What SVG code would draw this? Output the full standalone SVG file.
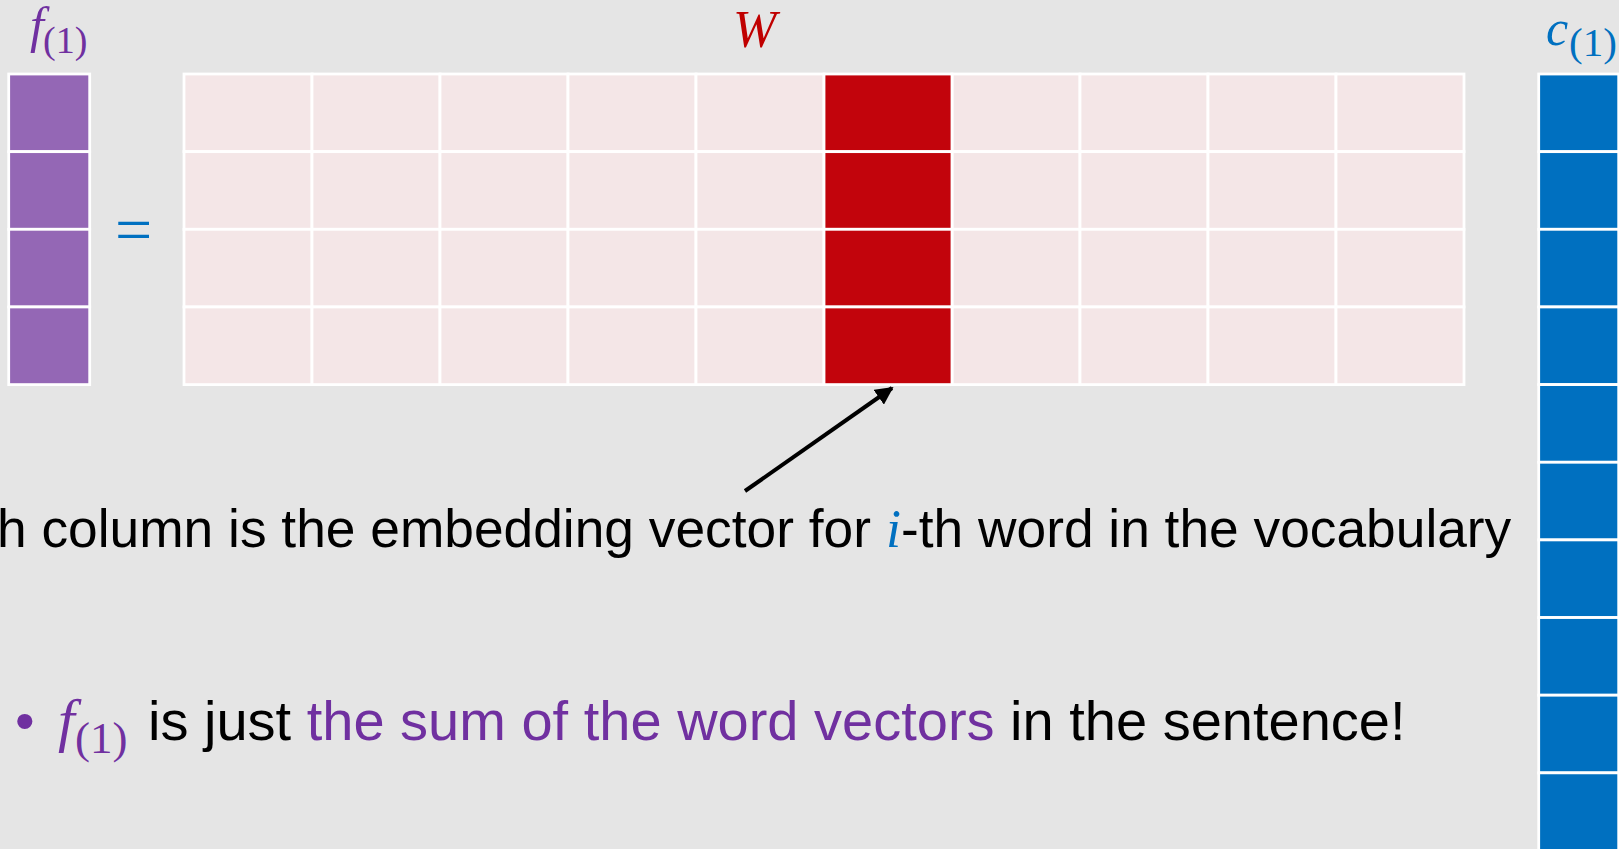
<svg xmlns="http://www.w3.org/2000/svg" width="1619" height="849" viewBox="0 0 1619 849">
<style>
.bg{fill:#E5E5E5}
.cell{stroke:#FFFFFF;stroke-width:2.8}
.fc{fill:#9467B5}
.wc{fill:#F4E6E7}
.wr{fill:#C2040C}
.cc{fill:#0070C0}
.math{font-family:"Liberation Serif","DejaVu Serif",serif;font-style:italic}
.mup{font-family:"Liberation Serif","DejaVu Serif",serif}
.body{font-family:"Liberation Sans",Arial,sans-serif;font-size:53.3px;fill:#000000}
.body2{font-family:"Liberation Sans",Arial,sans-serif;font-size:56px;fill:#000000}
.purple{fill:#7030A0}
.blue{fill:#0070C0}
.red{fill:#C00000}
</style>
<defs>
<marker id="ah" viewBox="0 0 10 10" refX="9" refY="5" markerWidth="4.5" markerHeight="4.5" orient="auto" markerUnits="strokeWidth">
<path d="M0,0 L10,5 L0,10 Z" fill="#000000"/>
</marker>
</defs>
<rect class="bg" x="0" y="0" width="1619" height="849"/>

<g id="f-vector">
<rect class="cell fc" x="8.7" y="74" width="81" height="77.65"/>
<rect class="cell fc" x="8.7" y="151.65" width="81" height="77.65"/>
<rect class="cell fc" x="8.7" y="229.3" width="81" height="77.65"/>
<rect class="cell fc" x="8.7" y="306.95" width="81" height="77.65"/>
</g>
<g id="f-label">
<text class="math purple" x="30" y="42" font-size="50">f</text>
<text class="mup purple" x="43" y="53" font-size="38">(1)</text>
</g>

<g id="equals">
<text class="mup blue" x="115" y="252" font-size="66">=</text>
</g>

<g id="W-matrix">
<g class="wc">
<rect class="cell" x="184" y="74" width="128" height="77.65"/><rect class="cell" x="312" y="74" width="128" height="77.65"/><rect class="cell" x="440" y="74" width="128" height="77.65"/><rect class="cell" x="568" y="74" width="128" height="77.65"/><rect class="cell" x="696" y="74" width="128" height="77.65"/><rect class="cell" x="952" y="74" width="128" height="77.65"/><rect class="cell" x="1080" y="74" width="128" height="77.65"/><rect class="cell" x="1208" y="74" width="128" height="77.65"/><rect class="cell" x="1336" y="74" width="128" height="77.65"/>
<rect class="cell" x="184" y="151.65" width="128" height="77.65"/><rect class="cell" x="312" y="151.65" width="128" height="77.65"/><rect class="cell" x="440" y="151.65" width="128" height="77.65"/><rect class="cell" x="568" y="151.65" width="128" height="77.65"/><rect class="cell" x="696" y="151.65" width="128" height="77.65"/><rect class="cell" x="952" y="151.65" width="128" height="77.65"/><rect class="cell" x="1080" y="151.65" width="128" height="77.65"/><rect class="cell" x="1208" y="151.65" width="128" height="77.65"/><rect class="cell" x="1336" y="151.65" width="128" height="77.65"/>
<rect class="cell" x="184" y="229.3" width="128" height="77.65"/><rect class="cell" x="312" y="229.3" width="128" height="77.65"/><rect class="cell" x="440" y="229.3" width="128" height="77.65"/><rect class="cell" x="568" y="229.3" width="128" height="77.65"/><rect class="cell" x="696" y="229.3" width="128" height="77.65"/><rect class="cell" x="952" y="229.3" width="128" height="77.65"/><rect class="cell" x="1080" y="229.3" width="128" height="77.65"/><rect class="cell" x="1208" y="229.3" width="128" height="77.65"/><rect class="cell" x="1336" y="229.3" width="128" height="77.65"/>
<rect class="cell" x="184" y="306.95" width="128" height="77.65"/><rect class="cell" x="312" y="306.95" width="128" height="77.65"/><rect class="cell" x="440" y="306.95" width="128" height="77.65"/><rect class="cell" x="568" y="306.95" width="128" height="77.65"/><rect class="cell" x="696" y="306.95" width="128" height="77.65"/><rect class="cell" x="952" y="306.95" width="128" height="77.65"/><rect class="cell" x="1080" y="306.95" width="128" height="77.65"/><rect class="cell" x="1208" y="306.95" width="128" height="77.65"/><rect class="cell" x="1336" y="306.95" width="128" height="77.65"/>
</g>
<g id="W-column-i" class="wr">
<rect class="cell" x="824" y="74" width="128" height="77.65"/>
<rect class="cell" x="824" y="151.65" width="128" height="77.65"/>
<rect class="cell" x="824" y="229.3" width="128" height="77.65"/>
<rect class="cell" x="824" y="306.95" width="128" height="77.65"/>
</g>
</g>
<g id="W-label">
<text class="math red" x="733" y="47" font-size="52">W</text>
</g>

<g id="c-vector" class="cc">
<rect class="cell" x="1538.7" y="74" width="80" height="77.65"/>
<rect class="cell" x="1538.7" y="151.65" width="80" height="77.65"/>
<rect class="cell" x="1538.7" y="229.3" width="80" height="77.65"/>
<rect class="cell" x="1538.7" y="306.95" width="80" height="77.65"/>
<rect class="cell" x="1538.7" y="384.6" width="80" height="77.65"/>
<rect class="cell" x="1538.7" y="462.25" width="80" height="77.65"/>
<rect class="cell" x="1538.7" y="539.9" width="80" height="77.65"/>
<rect class="cell" x="1538.7" y="617.55" width="80" height="77.65"/>
<rect class="cell" x="1538.7" y="695.2" width="80" height="77.65"/>
<rect class="cell" x="1538.7" y="772.85" width="80" height="77.65"/>
</g>
<g id="c-label">
<text class="math blue" x="1546" y="45" font-size="50">c</text>
<text class="mup blue" x="1569" y="56" font-size="41">(1)</text>
</g>

<g id="connectors">
<line x1="745" y1="491" x2="892" y2="388" stroke="#000000" stroke-width="4" marker-end="url(#ah)"/>
</g>

<g id="caption">
<text class="body" y="547"><tspan x="-3">h column is the embedding vector for </tspan><tspan class="math blue" x="886" font-size="54">i</tspan><tspan x="901">-th word in the vocabulary</tspan></text>
</g>

<g id="bullet">
<text class="body2 purple" x="15" y="740">•</text>
<text class="math purple" x="58" y="740" font-size="60">f</text>
<text class="mup purple" x="75" y="753" font-size="45">(1)</text>
<text class="body2" x="148" y="740">is just <tspan class="purple">the sum of the word vectors</tspan> in the sentence!</text>
</g>
</svg>
